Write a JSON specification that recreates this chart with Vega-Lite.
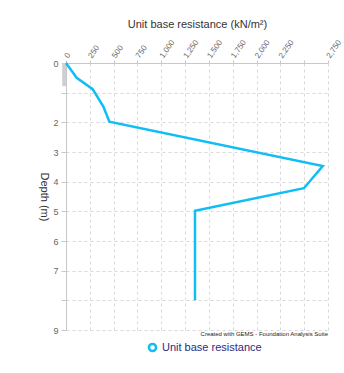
{
  "$schema": "https://vega.github.io/schema/vega-lite/v6.json",
  "width": 262,
  "height": 267,
  "autosize": {"type": "none"},
  "padding": {"left": 66, "top": 63, "right": 16, "bottom": 43},
  "background": "white",
  "title": {
    "text": "Created with GEMS - Foundation Analysis Suite",
    "orient": "bottom",
    "anchor": "end",
    "frame": "group",
    "fontSize": 6,
    "fontWeight": "normal",
    "color": "#222",
    "font": "Liberation Sans",
    "offset": -26
  },
  "config": {
    "view": {"stroke": null},
    "font": "Liberation Sans",
    "axis": {
      "gridColor": "#d9d9d9",
      "gridDash": [3, 3],
      "domainColor": "#c8c8c8",
      "tickColor": "#c8c8c8",
      "labelColor": "#666",
      "labelFont": "Liberation Sans",
      "labelFontSize": 9,
      "titleFont": "Liberation Sans",
      "titleFontWeight": "normal",
      "titleColor": "#333",
      "titleFontSize": 11
    }
  },
  "encoding": {
    "x": {
      "field": "R",
      "type": "quantitative",
      "scale": {"domain": [0, 2750], "nice": false},
      "axis": {
        "orient": "top",
        "title": "Unit base resistance (kN/m²)",
        "values": [0, 250, 500, 750, 1000, 1250, 1500, 1750, 2000, 2250, 2500, 2750],
        "labelExpr": "datum.value == 2500 ? '' : format(datum.value, ',')",
        "labelAngle": -55,
        "labelAlign": "left",
        "labelBaseline": "middle",
        "labelPadding": 3,
        "labelFontSize": 8,
        "tickSize": 3,
        "titlePadding": 9,
        "labelOverlap": false
      }
    },
    "y": {
      "field": "depth",
      "type": "quantitative",
      "scale": {"domain": [0, 9], "reverse": true, "nice": false},
      "axis": {
        "title": "Depth (m)",
        "titleAngle": 90,
        "titlePadding": 14,
        "values": [0, 1, 2, 3, 4, 5, 6, 7, 8, 9],
        "labelExpr": "datum.value == 1 || datum.value == 8 ? '' : datum.label",
        "tickSize": 5,
        "labelPadding": 3,
        "labelFontSize": 9,
        "labelOverlap": false
      }
    }
  },
  "layer": [
    {
      "data": {"values": [{"R": -40, "R2": 0, "depth": 0, "depth2": 0.78}]},
      "mark": {"type": "rect", "color": "#cfcfcf"},
      "encoding": {
        "x2": {"field": "R2"},
        "y2": {"field": "depth2"}
      }
    },
    {
      "data": {
        "values": [
          {"depth": 0, "R": 0, "series": "Unit base resistance"},
          {"depth": 0.5, "R": 112, "series": "Unit base resistance"},
          {"depth": 0.88, "R": 280, "series": "Unit base resistance"},
          {"depth": 1.47, "R": 392, "series": "Unit base resistance"},
          {"depth": 1.98, "R": 455, "series": "Unit base resistance"},
          {"depth": 3.47, "R": 2695, "series": "Unit base resistance"},
          {"depth": 4.22, "R": 2497, "series": "Unit base resistance"},
          {"depth": 4.98, "R": 1354, "series": "Unit base resistance"},
          {"depth": 8.0, "R": 1354, "series": "Unit base resistance"}
        ]
      },
      "mark": {"type": "line", "strokeWidth": 2.5, "point": false},
      "encoding": {
        "order": {"field": "depth"},
        "color": {
          "field": "series",
          "type": "nominal",
          "scale": {"range": ["#10bdf5"]},
          "legend": {
            "orient": "none",
            "legendX": 81,
            "legendY": 279,
            "direction": "horizontal",
            "title": null,
            "symbolType": "circle",
            "symbolFillColor": "white",
            "symbolStrokeWidth": 2.5,
            "symbolSize": 50,
            "labelFontSize": 11,
            "labelColor": "#2b2b80",
            "labelFont": "Liberation Sans"
          }
        }
      }
    }
  ]
}
